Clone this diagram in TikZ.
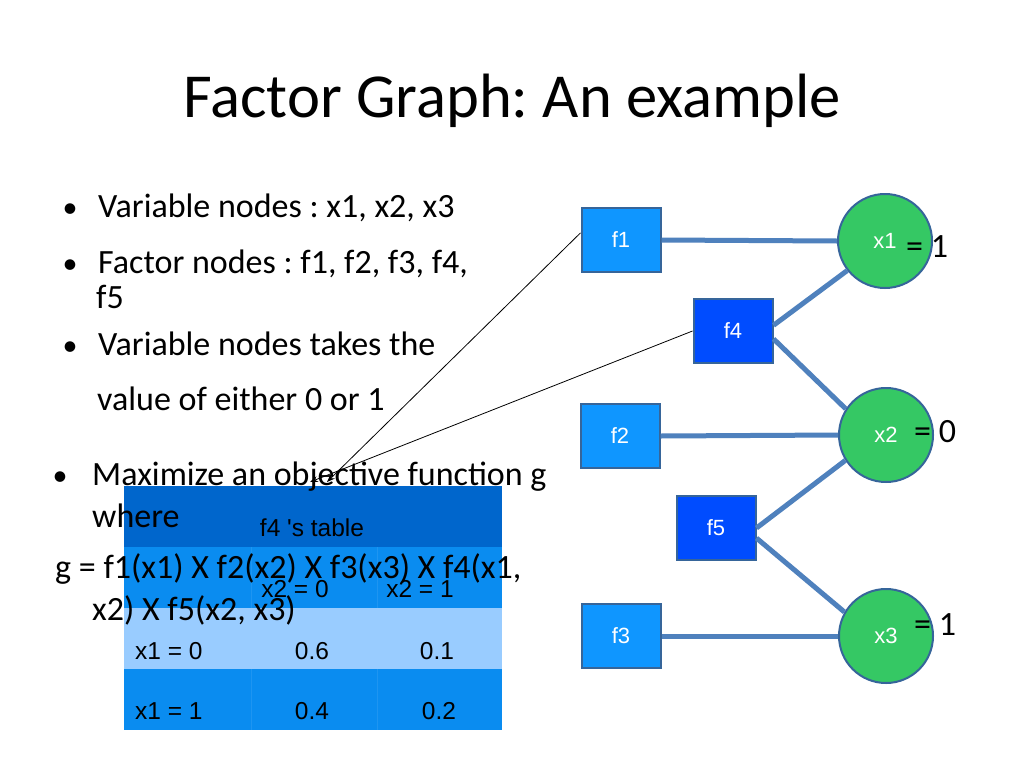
\documentclass[tikz,border=0pt]{standalone}
\usepackage{fontspec}
\setmainfont{Carlito}
\newfontfamily\arialfont{Liberation Sans}
\usepackage{xcolor}
\usepackage{tikz}
\usetikzlibrary{arrows.meta}
\definecolor{facA}{HTML}{0F96FF}
\definecolor{facB}{HTML}{004CFF}
\definecolor{nodeline}{HTML}{36659A}
\definecolor{vargreen}{HTML}{35C864}
\definecolor{linkblue}{HTML}{4F81BD}
\definecolor{tabhead}{HTML}{0066CC}
\definecolor{tabrow}{HTML}{0A8CF0}
\definecolor{tablight}{HTML}{99CCFF}
\frenchspacing

\begin{document}
\begin{tikzpicture}[x=1pt,y=-1pt,
  factor/.style={draw=nodeline,line width=2pt,minimum width=79pt,minimum height=64pt,inner sep=0pt,text=white,font=\arialfont\fontsize{22}{22}\selectfont},
  varnode/.style={circle,draw=nodeline,fill=vargreen,line width=2pt,minimum size=94pt,inner sep=0pt,text=white,font=\arialfont\fontsize{22}{22}\selectfont},
  link/.style={linkblue,line width=5pt},
  pointer/.style={-{Stealth[length=8pt,width=6pt]},line width=0.8pt},
  body/.style={anchor=base west,inner sep=0pt,font=\fontsize{34}{34}\selectfont},
  cell/.style={anchor=base,inner sep=0pt,font=\arialfont\fontsize{24.5}{24.5}\selectfont}]
  \fill[white] (0,0) rectangle (1024,768);
  \useasboundingbox (0,0) rectangle (1024,768);
  \node[anchor=base,inner sep=0pt,font=\fontsize{62.6}{62.6}\selectfont] (title) at (512,117) {Factor Graph: An example};

  \foreach \y/\c in {486/tabhead,547/tabrow,608/tablight,669/tabrow}{\fill[\c] (124,\y) rectangle ++(378,61);}
  \draw[tabrow!92!white,line width=0.5pt] (251,547) -- ++(0,61) (377,547) -- ++(0,61) (251,669) -- ++(0,61) (377,669) -- ++(0,61);
  \node[cell] (head) at (312,536) {f4 \char"0027s table};
  \node[cell] (c0) at (295,597) {x2 = 0};
  \node[cell] (c1) at (420,597) {x2 = 1};
  \node[cell,anchor=base west] (r0) at (135,659) {x1 = 0};
  \node[cell] (p00) at (312,659) {0.6};
  \node[cell] (p01) at (437,659) {0.1};
  \node[cell,anchor=base west] (r1) at (135,719) {x1 = 1};
  \node[cell] (p10) at (312,719) {0.4};
  \node[cell] (p11) at (439,719) {0.2};

  \foreach \x/\y [count=\i] in {70/217,70/273,70/355,60/485}{\node[anchor=base,inner sep=0pt,font=\fontsize{30}{30}\selectfont] (dot\i) at (\x,\y) {\textbullet};}
  \foreach \x/\y/\t [count=\i] in {98/217/{Variable nodes : x1, x2, x3},98/273/{Factor nodes : f1, f2, f3, f4,},96/308/{f5},98/355/{Variable nodes takes the},97/410/{value of either 0 or 1},92/485/{Maximize an objective function g},92/527/{where},55/578/{g = f1(x1) X f2(x2) X f3(x3) X f4(x1,},92/620/{x2) X f5(x2, x3)}}{\node[body] (line\i) at (\x,\y) {\t};}

  \node[factor,fill=facA] (f1) at (621,240) {f1};
  \node[factor,fill=facB] (f4) at (733,331) {f4};
  \node[factor,fill=facA] (f2) at (620,436) {f2};
  \node[factor,fill=facB] (f5) at (716,528) {f5};
  \node[factor,fill=facA] (f3) at (621,636) {f3};
  \node[varnode] (x1) at (885,241) {x1};
  \node[varnode] (x2) at (886,435) {x2};
  \node[varnode] (x3) at (886,636) {x3};
  \node[body] (v1) at (906,257) {= 1};
  \node[body] (v2) at (914,442) {= 0};
  \node[body] (v3) at (914,635) {= 1};

  \draw[link] (f1.east) -- (x1.west);
  \draw[link] (f4.8) -- (x1.218);
  \draw[link] (f4.-11) -- (x2.147);
  \draw[link] (f2.east) -- (x2.west);
  \draw[link] (f5.east) -- (x2.212);
  \draw[link] (f5.-14) -- (x3.150);
  \draw[link] (f3.east) -- (x3.west);

  \coordinate (tipA) at (327,482);
  \coordinate (tipB) at (310,482);
  \draw[pointer] (f1.170) -- (tipA);
  \draw[pointer] (f4.west) -- (tipB);
\end{tikzpicture}
\end{document}
